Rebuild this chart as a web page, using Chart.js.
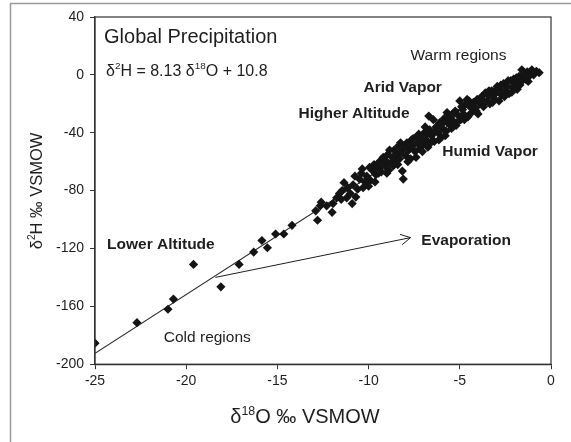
<!DOCTYPE html>
<html>
<head>
<meta charset="utf-8">
<script src="https://cdn.jsdelivr.net/npm/chart.js@4"></script>
<style>
  html, body { margin: 0; padding: 0; background: #fff; }
  #wrap { width: 571px; height: 442px; position: relative; }
</style>
</head>
<body>
<div id="wrap"><canvas id="chart"></canvas></div>
<script>
// precipitation samples: x = d18O, y = d2H (per mil VSMOW)
const d18O = [
  -25.0, -22.7, -21.0, -20.7, -19.6, -18.1, -17.1, -16.3, -15.85, -15.55,
  -15.1, -14.65, -14.2, -12.9, -12.8, -12.65, -12.6, -12.3, -12.0, -11.95,
  -11.75, -11.6, -11.45, -11.35, -11.2, -11.15, -10.9, -10.85, -10.7, -10.6,
  -10.5, -10.4, -10.35, -10.2, -10.1, -10.0, -9.9, -9.8, -9.7, -9.6,
  -9.5, -9.4, -9.35, -9.3, -9.2, -9.1, -9.05, -8.95, -8.9, -8.8,
  -8.7, -8.6, -8.5, -8.45, -8.35, -8.3, -8.2, -8.15, -8.1, -8.05,
  -7.95, -7.9, -7.8, -7.7, -7.6, -7.55, -7.45, -7.35, -7.3, -7.2,
  -7.1, -7.0, -6.95, -6.85, -6.75, -6.7, -6.65, -6.55, -6.45, -6.4,
  -6.3, -6.2, -6.1, -6.0, -5.95, -5.85, -5.75, -5.7, -5.6, -5.5,
  -5.45, -5.35, -5.25, -5.2, -5.1, -5.0, -4.95, -4.85, -4.8, -4.7,
  -4.6, -4.55, -4.45, -4.35, -4.25, -4.15, -4.05, -4.0, -3.9, -3.8,
  -3.7, -3.6, -3.5, -3.45, -3.35, -3.25, -3.15, -3.05, -2.95, -2.85,
  -2.8, -2.7, -2.6, -2.5, -2.4, -2.3, -2.2, -2.1, -2.05, -1.95,
  -1.85, -1.75, -1.65, -1.6, -1.5, -1.4, -1.3, -1.25, -1.15, -1.05,
  -0.95, -0.8, -0.65,
  -11.5, -11.0, -10.75, -10.3, -9.95, -9.65, -9.45, -9.25, -9.0, -8.85,
  -8.65, -8.4, -8.25, -7.85, -7.65, -7.4, -7.25, -7.05, -6.9, -6.8,
  -6.6, -6.35, -6.15, -5.9, -5.8, -5.65, -5.4, -5.15, -4.9, -4.75,
  -4.5, -4.3, -4.1, -3.85, -3.65, -3.4, -3.2, -3.0, -2.75, -2.55,
  -2.35, -2.15, -1.9, -1.7, -1.45, -1.2
];
const d2H = [
  -185.5, -171.3, -162, -155, -131, -146.5, -131, -122.5, -114.5, -119.5,
  -110, -110, -104, -94, -100.5, -90.5, -88, -90.5, -95, -89,
  -85, -82, -80, -74.5, -85, -78, -89, -76, -84.5, -79,
  -72, -68, -65, -74, -70, -77, -73, -66, -62, -69,
  -64, -60, -59.5, -67, -57, -63, -59.5, -55, -66, -61,
  -57, -52, -60, -55, -49, -58, -53, -66.5, -72, -50,
  -56, -47, -52, -58, -49, -44, -53, -42.5, -47, -51,
  -44, -48, -40, -45, -50, -28.5, -38, -42, -31, -46,
  -36, -40, -33, -43, -37, -30, -39, -26, -34, -29,
  -37, -32, -25, -35, -28, -18, -31, -24, -27, -20.5,
  -17, -29, -22, -26, -19, -23, -17, -27, -20, -15,
  -22, -12.5, -18, -14, -20, -11, -16, -13, -8, -18,
  -10, -14, -6, -11, -8, -13, -4, -9, -3, -6,
  -10, -1, -5, 3.5, 0, -3, 2, -4.5, 1, 3.5,
  0, 2.5, 1.5,
  -86, -82, -70, -78, -64, -74, -68, -62, -68, -52,
  -63, -62, -47, -60, -45, -57, -41, -53, -36, -41,
  -47, -39, -45, -33, -42, -31, -27, -33, -22, -31,
  -18, -22, -25, -17, -19, -11, -19, -10, -7, -15,
  -4, -12, -2, -7, 1.5, -1
];

// meteoric water line d2H = 8.13 d18O + 10.8, end points
const fitX = [-25, -0.8];
const fitY = [-192.5, 4.3];

// evaporation arrow, start and tip
const arrowX = [-18.4, -7.7];
const arrowY = [-140, -112.5];

// text notes placed in data units
const notes = [
  { text: 'Warm regions', x: -7.7, y: 10.4, bold: false },
  { text: 'Arid Vapor', x: -10.28, y: -11.6, bold: true },
  { text: 'Higher Altitude', x: -13.84, y: -29.5, bold: true },
  { text: 'Humid Vapor', x: -5.96, y: -56.3, bold: true },
  { text: 'Lower Altitude', x: -24.34, y: -120.6, bold: true },
  { text: 'Evaporation', x: -7.11, y: -117.5, bold: true },
  { text: 'Cold regions', x: -21.23, y: -184.9, bold: false }
];

const FONT = "'Liberation Sans', Arial, sans-serif";
const INK = '#1e1e1e';

// draws text pieces, [string, isSuperscript]
function richText(ctx, parts, x, y, size, weight) {
  let cx = x;
  parts.forEach(p => {
    const s = p[1] ? size * 0.62 : size;
    ctx.font = weight + ' ' + s + 'px ' + FONT;
    ctx.fillText(p[0], cx, p[1] ? y - size * 0.42 : y);
    cx += ctx.measureText(p[0]).width;
  });
  return cx - x;
}
function richWidth(ctx, parts, size, weight) {
  let w = 0;
  parts.forEach(p => {
    ctx.font = weight + ' ' + (p[1] ? size * 0.62 : size) + 'px ' + FONT;
    w += ctx.measureText(p[0]).width;
  });
  return w;
}

const decor = {
  id: 'decor',
  afterDraw(chart) {
    const ctx = chart.ctx;
    const xs = chart.scales.x, ys = chart.scales.y;
    const a = chart.chartArea;
    ctx.save();

    // outer picture frame
    ctx.strokeStyle = '#9a9a9a';
    ctx.lineWidth = 1.5;
    ctx.beginPath();
    ctx.moveTo(10.5, 442); ctx.lineTo(10.5, 3.5); ctx.lineTo(571, 3.5);
    ctx.stroke();

    // plot box
    ctx.strokeStyle = '#333';
    ctx.lineWidth = 1.2;
    ctx.strokeRect(a.left, a.top, a.right - a.left, a.bottom - a.top);

    ctx.fillStyle = INK;
    ctx.textBaseline = 'alphabetic';
    ctx.textAlign = 'left';

    // heading and equation
    richText(ctx, [['Global Precipitation', 0]], a.left + 9, 42.5, 20, 'normal');
    richText(ctx, [['δ', 0], ['2', 1], ['H = 8.13 δ', 0], ['18', 1], ['O + 10.8', 0]], a.left + 11, 76, 16, 'normal');

    notes.forEach(n => {
      ctx.font = (n.bold ? 'bold ' : '') + '15.5px ' + FONT;
      ctx.fillText(n.text, xs.getPixelForValue(n.x), ys.getPixelForValue(n.y));
    });

    // arrowhead
    const x0 = xs.getPixelForValue(arrowX[0]), y0 = ys.getPixelForValue(arrowY[0]);
    const x1 = xs.getPixelForValue(arrowX[1]), y1 = ys.getPixelForValue(arrowY[1]);
    const ang = Math.atan2(y1 - y0, x1 - x0);
    ctx.strokeStyle = INK;
    ctx.lineWidth = 1;
    ctx.beginPath();
    ctx.moveTo(x1 - 11 * Math.cos(ang - 0.5), y1 - 11 * Math.sin(ang - 0.5));
    ctx.lineTo(x1, y1);
    ctx.lineTo(x1 - 11 * Math.cos(ang + 0.5), y1 - 11 * Math.sin(ang + 0.5));
    ctx.stroke();

    // axis titles
    const xt = [['δ', 0], ['18', 1], ['O ‰ VSMOW', 0]];
    const xw = richWidth(ctx, xt, 20, 'normal');
    richText(ctx, xt, 305 - xw / 2, 423, 20, 'normal');

    const yt = [['δ', 0], ['2', 1], ['H ‰ VSMOW', 0]];
    const yw = richWidth(ctx, yt, 16.5, 'normal');
    ctx.translate(42, 191);
    ctx.rotate(-Math.PI / 2);
    richText(ctx, yt, -yw / 2, 0, 16.5, 'normal');

    ctx.restore();
  }
};

const tickFont = { family: FONT, size: 14 };

new Chart(document.getElementById('chart'), {
  type: 'scatter',
  data: {
    datasets: [
      {
        label: 'Precipitation',
        data: d18O.map((v, i) => ({ x: v, y: d2H[i] })),
        pointStyle: 'rectRot',
        pointRadius: 4.6,
        backgroundColor: '#141414',
        borderWidth: 0,
        order: 0
      },
      {
        label: 'GMWL',
        type: 'line',
        data: fitX.map((v, i) => ({ x: v, y: fitY[i] })),
        borderColor: '#2a2a2a',
        borderWidth: 1.2,
        pointRadius: 0,
        order: 1
      },
      {
        label: 'Evaporation',
        type: 'line',
        data: arrowX.map((v, i) => ({ x: v, y: arrowY[i] })),
        borderColor: INK,
        borderWidth: 1,
        pointRadius: 0,
        order: 1
      }
    ]
  },
  options: {
    responsive: true,
    maintainAspectRatio: false,
    animation: false,
    layout: { padding: { left: 50, top: 17, right: 20, bottom: 48 } },
    plugins: { legend: { display: false }, tooltip: { enabled: false } },
    scales: {
      x: {
        type: 'linear', min: -25, max: 0,
        ticks: { stepSize: 5, font: tickFont, color: INK, padding: 4, maxRotation: 0 },
        grid: { drawOnChartArea: false, tickLength: 5, color: '#333' },
        border: { color: '#333', width: 1.2 }
      },
      y: {
        type: 'linear', min: -200, max: 40,
        ticks: { stepSize: 40, font: tickFont, color: INK, padding: 6 },
        grid: { drawOnChartArea: false, tickLength: 5, color: '#333' },
        border: { color: '#333', width: 1.2 }
      }
    }
  },
  plugins: [decor]
});
</script>
</body>
</html>
